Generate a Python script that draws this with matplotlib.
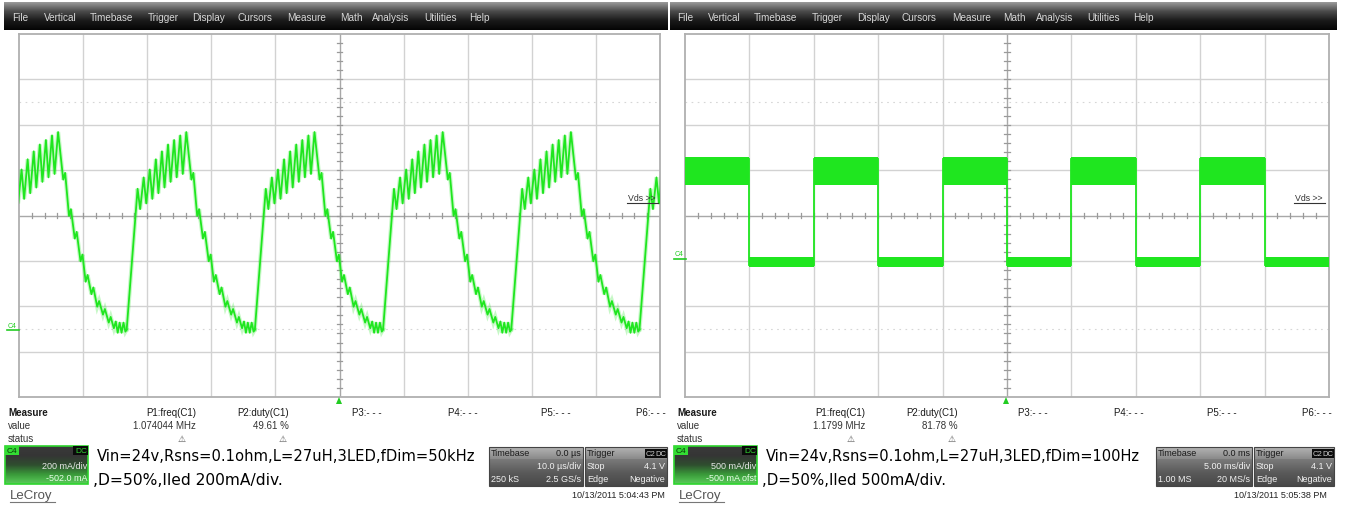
import numpy as np
import matplotlib
matplotlib.use("Agg")
import matplotlib.pyplot as plt
from matplotlib.patches import Rectangle, Polygon
from matplotlib.colors import to_rgb

# ---------------- DATA ----------------
menu_items = ["File", "Vertical", "Timebase", "Trigger", "Display", "Cursors",
              "Measure", "Math", "Analysis", "Utilities", "Help"]

# Left capture: LED current, 200 mA/div, offset -502 mA, 10 us/div, fDim = 50 kHz
left_tdiv_us = 10.0
left_vdiv_mA = 200.0
left_offset_mA = -502.0
# one PWM-dimming period (time from start of rise, us / current, mA)
dim_period_t_us = [0.0, 1.7, 2.1, 2.65, 3.05, 3.6, 4.0, 4.55, 4.95, 5.5, 5.9, 6.45, 6.85,
                   7.4, 7.8, 8.35, 8.75, 9.3,
                   10.1, 10.4, 11.0, 11.3, 11.9, 12.2, 12.8, 13.1, 13.6, 13.9, 14.5, 14.8,
                   15.4, 15.7, 16.3, 16.6, 17.2, 17.5, 18.0,
                   18.3, 18.6, 18.9, 19.2, 19.5, 19.8, 20.0]
dim_period_i_mA = [0, 620, 530, 670, 555, 705, 575, 750, 600, 785, 625, 815, 650,
                   835, 670, 855, 685, 870,
                   660, 690, 500, 530, 400, 430, 300, 330, 210, 240, 155, 185,
                   100, 125, 65, 90, 30, 55, 5,
                   35, -15, 30, -15, 30, -10, 0]
dim_rise_starts_us = [-3.2, 16.8, 36.8, 56.8, 76.8, 96.8]

# Right capture: 500 mA/div, offset -500 mA, 5 ms/div, fDim = 100 Hz
right_tdiv_ms = 5.0
right_vdiv_mA = 500.0
right_offset_mA = -500.0
sq_edges_ms = [0, 5, 10, 15, 20, 25, 30, 35, 40, 45, 50]
sq_high_band_mA = (840, 1145)
sq_low_band_mA = (-65, 45)

panels = [
    dict(p1="1.074044 MHz", p2="49.61 %", ch_div="200 mA/div", ch_ofs="-502.0 mA",
         note1="Vin=24v,Rsns=0.1ohm,L=27uH,3LED,fDim=50kHz", note2=",D=50%,Iled 200mA/div.",
         tb0="0.0 µs", tbdiv="10.0 µs/div", tbs="250 kS", tbr="2.5 GS/s",
         date="10/13/2011 5:04:43 PM"),
    dict(p1="1.1799 MHz", p2="81.78 %", ch_div="500 mA/div", ch_ofs="-500 mA ofst",
         note1="Vin=24v,Rsns=0.1ohm,L=27uH,3LED,fDim=100Hz", note2=",D=50%,Iled 500mA/div.",
         tb0="0.0 ms", tbdiv="5.00 ms/div", tbs="1.00 MS", tbr="20 MS/s",
         date="10/13/2011 5:05:38 PM"),
]

# ---------------- FIGURE ----------------
W, H = 1357, 506
fig = plt.figure(figsize=(W / 100, H / 100), dpi=100)
fig.patch.set_facecolor("white")
bg = fig.add_axes([0, 0, 1, 1])
bg.set_xlim(0, W); bg.set_ylim(H, 0); bg.axis("off")

GREEN = "#1fe61f"
FONT = "Liberation Sans"
renderer = fig.canvas.get_renderer()


def txt(ax, x, y, s, size=7, color="#1a1a1a", ha="left", va="center", weight="normal",
        family=FONT, fit=None, **kw):
    t = ax.text(x, y, s, fontsize=size, color=color, ha=ha, va=va, fontweight=weight,
                family=family, **kw)
    if fit:
        w = t.get_window_extent(renderer).width
        t.set_fontsize(size * fit / w)
    return t


def grad(ax, x0, y0, x1, y1, stops, z=1):
    n = 64
    pos = np.linspace(0, 1, n)
    sp = np.linspace(0, 1, len(stops))
    cols = np.array([to_rgb(c) for c in stops])
    arr = np.stack([np.interp(pos, sp, cols[:, i]) for i in range(3)], axis=-1)[:, None, :]
    ax.imshow(arr, extent=(x0, x1, y1, y0), aspect="auto", interpolation="bilinear", zorder=z)


# menu bars
bar_x = [(4, 668), (670, 1337)]
menu_x = [[12, 44, 90, 148, 192, 238, 287, 340, 372, 424, 469],
          [677, 708, 754, 812, 857, 902, 952, 1003, 1036, 1087, 1133]]
for (bx0, bx1), mx in zip(bar_x, menu_x):
    grad(bg, bx0, 3, bx1, 31, ["#9a9a9a", "#4a4a4a", "#1a1a1a", "#050505"])
    for name, x in zip(menu_items, mx):
        txt(bg, x, 17.5, name, size=7.2, color="#d8d8d8")

bg.set_xlim(0, W); bg.set_ylim(H, 0)


def scope_axes(px0, px1, py0, py1, tdiv, vdiv, offset):
    ax = fig.add_axes([px0 / W, 1 - py1 / H, (px1 - px0) / W, (py1 - py0) / H])
    ax.set_facecolor("none")
    c = -offset
    ax.set_xlim(0, 10 * tdiv); ax.set_ylim(c - 4 * vdiv, c + 4 * vdiv)
    ax.set_xticks([]); ax.set_yticks([])
    for s in ax.spines.values():
        s.set_color("#b0b0b0"); s.set_linewidth(1.3)
    for k in range(1, 10):
        ax.axvline(k * tdiv, color="#a8a8a8" if k == 5 else "#d2d2d2", lw=1, zorder=1)
    for k in range(1, 8):
        ax.axhline(c + (k - 4) * vdiv, color="#a8a8a8" if k == 4 else "#d2d2d2", lw=1, zorder=1)
    for yy in (c + 2.5 * vdiv, c - 2.5 * vdiv):
        ax.axhline(yy, color="#d6d6d6", lw=0.8, ls=(0, (1.5, 4)), zorder=1)
    for k in range(1, 50):
        x = k * tdiv / 5
        ax.plot([x, x], [c - 0.05 * vdiv, c + 0.05 * vdiv], color="#9a9a9a", lw=0.9, zorder=1)
    for k in range(1, 40):
        y = c - 4 * vdiv + k * vdiv / 5
        ax.plot([5 * tdiv - 0.04 * tdiv, 5 * tdiv + 0.04 * tdiv], [y, y], color="#9a9a9a",
                lw=0.9, zorder=1)
    return ax


# left scope
axL = scope_axes(19, 660, 35, 398, left_tdiv_us, left_vdiv_mA, left_offset_mA)
pt = np.array(dim_period_t_us); pi = np.array(dim_period_i_mA)
for t0 in dim_rise_starts_us:
    axL.plot(t0 + pt, pi, color=GREEN, lw=3.0, alpha=0.25, zorder=3, solid_joinstyle="miter")
    axL.plot(t0 + pt, pi, color=GREEN, lw=1.3, zorder=4)

# right scope
axR = scope_axes(685, 1329, 35, 398, right_tdiv_ms, right_vdiv_mA, right_offset_mA)
for k in range(len(sq_edges_ms) - 1):
    t0, t1 = sq_edges_ms[k], sq_edges_ms[k + 1]
    lo, hi = sq_high_band_mA if k % 2 == 0 else sq_low_band_mA
    axR.fill_between([t0, t1], [lo, lo], [hi, hi], color=GREEN, lw=0, zorder=3)
    if k > 0:
        axR.plot([t0, t0], [sq_low_band_mA[0] + 20, sq_high_band_mA[1] - 20], color=GREEN,
                 lw=1.3, zorder=3)

# overlay for markers
ov = fig.add_axes([0, 0, 1, 1])
ov.set_facecolor("none"); ov.set_xlim(0, W); ov.set_ylim(H, 0); ov.axis("off")

for ox, c4y in ((0, 326), (667, 255)):
    # Vds label
    txt(ov, 628 + ox, 198.5, "Vds >>", size=6.3, color="#333333")
    ov.plot([627 + ox, 658 + ox], [203.5, 203.5], color="#333333", lw=0.8)
    # C4 marker
    txt(ov, 8 + ox, c4y, "C4", size=5, color="#22cc22")
    ov.plot([7 + ox, 19 + ox], [c4y + 4.5, c4y + 4.5], color="#22cc22", lw=1.2)
    # trigger marker
    ov.add_patch(Polygon([[336 + ox, 405], [342 + ox, 405], [339 + ox, 398]], closed=True,
                         color="#22cc22", lw=0))

# ---------------- bottom info ----------------
for ox, p in zip((0, 669), panels):
    txt(bg, 8 + ox, 413, "Measure", size=7, weight="bold")
    txt(bg, 8 + ox, 426, "value", size=7, color="#333333")
    txt(bg, 8 + ox, 439, "status", size=7, color="#333333")
    txt(bg, 196 + ox, 413, "P1:freq(C1)", size=7, ha="right")
    txt(bg, 196 + ox, 426, p["p1"], size=7, ha="right", color="#333333")
    txt(bg, 182 + ox, 439, "⚠", size=6.5, ha="center", color="#555555", family="DejaVu Sans")
    txt(bg, 289 + ox, 413, "P2:duty(C1)", size=7, ha="right")
    txt(bg, 289 + ox, 426, p["p2"], size=7, ha="right", color="#333333")
    txt(bg, 283 + ox, 439, "⚠", size=6.5, ha="center", color="#555555", family="DejaVu Sans")
    for lab, x in (("P3:- - -", 352), ("P4:- - -", 448), ("P5:- - -", 541), ("P6:- - -", 636)):
        txt(bg, x + ox - (3 if ox else 0), 413, lab, size=7)

    # channel box
    cx0, cx1, cy0, cy1 = 5 + ox, 88 + ox, 447, 485
    grad(bg, cx0, cy0, cx1, cy1, ["#3a3a3a", "#353535", "#2f4f2f", "#3a9a3a", "#5acc5a"], z=2)
    bg.add_patch(Rectangle((cx0, cy0), cx1 - cx0, cy1 - cy0, fill=False, ec="#2ed42e", lw=1.2, zorder=3))
    bg.add_patch(Rectangle((cx0, cy0), 14, 9, fc="#33dd33", ec="none", zorder=3))
    txt(bg, cx0 + 2, cy0 + 4.8, "C4", size=6, color="#0a3a0a", zorder=4)
    bg.add_patch(Rectangle((cx1 - 15, cy0), 15, 9, fc="#0a0a0a", ec="none", zorder=3))
    txt(bg, cx1 - 1, cy0 + 4.8, "DC", size=6, color="#33dd33", ha="right", zorder=4)
    txt(bg, cx1 - 1, 467, p["ch_div"], size=6.5, color="#e8e8e8", ha="right", zorder=4)
    txt(bg, cx1 - 1, 479, p["ch_ofs"], size=6.5, color="#e8ffe8", ha="right", zorder=4)

    # annotation text
    txt(bg, 97 + ox, 457, p["note1"], size=11, color="black", family="DejaVu Sans",
        fit=376 if ox == 0 else 372)
    txt(bg, 93 + ox, 481, p["note2"], size=11, color="black", family="DejaVu Sans",
        fit=190 if ox == 0 else 184)

    # timebase box
    tx0, tx1 = (489, 583) if ox == 0 else (1156, 1252)
    grad(bg, tx0, 448, tx1, 460, ["#b4b4b4", "#8a8a8a"], z=2)
    grad(bg, tx0, 460, tx1, 487, ["#7a7a7a", "#5a5a5a", "#484848"], z=2)
    bg.add_patch(Rectangle((tx0, 448), tx1 - tx0, 39, fill=False, ec="#444444", lw=0.8, zorder=3))
    txt(bg, tx0 + 2, 454, "Timebase", size=6.5, color="#1a1a1a", zorder=4)
    txt(bg, tx1 - 2, 454, p["tb0"], size=6.5, color="#1a1a1a", ha="right", zorder=4)
    txt(bg, tx1 - 2, 467, p["tbdiv"], size=6.5, color="#f2f2f2", ha="right", zorder=4)
    txt(bg, tx0 + 2, 480, p["tbs"], size=6.5, color="#f2f2f2", zorder=4)
    txt(bg, tx1 - 2, 480, p["tbr"], size=6.5, color="#f2f2f2", ha="right", zorder=4)

    # trigger box
    gx0, gx1 = (585, 667) if ox == 0 else (1254, 1334)
    grad(bg, gx0, 448, gx1, 460, ["#b4b4b4", "#8a8a8a"], z=2)
    grad(bg, gx0, 460, gx1, 487, ["#7a7a7a", "#5a5a5a", "#484848"], z=2)
    bg.add_patch(Rectangle((gx0, 448), gx1 - gx0, 39, fill=False, ec="#444444", lw=0.8, zorder=3))
    txt(bg, gx0 + 2, 454, "Trigger", size=6.5, color="#1a1a1a", zorder=4)
    bg.add_patch(Rectangle((gx1 - 22, 449.5), 10.5, 9, fc="#0a0a0a", ec="none", zorder=3))
    bg.add_patch(Rectangle((gx1 - 11, 449.5), 10.5, 9, fc="#0a0a0a", ec="none", zorder=3))
    txt(bg, gx1 - 16.8, 454.2, "C2", size=5.5, color="#cfcfcf", ha="center", zorder=4)
    txt(bg, gx1 - 5.8, 454.2, "DC", size=5.5, color="#cfcfcf", ha="center", zorder=4)
    txt(bg, gx0 + 2, 467, "Stop", size=6.5, color="#f2f2f2", zorder=4)
    txt(bg, gx1 - 2, 467, "4.1 V", size=6.5, color="#f2f2f2", ha="right", zorder=4)
    txt(bg, gx0 + 2, 480, "Edge", size=6.5, color="#f2f2f2", zorder=4)
    txt(bg, gx1 - 2, 480, "Negative", size=6.5, color="#f2f2f2", ha="right", zorder=4)

    # logo and date
    txt(bg, 10 + ox, 496, "LeCroy", size=9.5, color="#555555")
    bg.plot([10 + ox, 55 + ox], [503, 503], color="#777777", lw=0.8)
    txt(bg, (665 if ox == 0 else 1327), 496, p["date"], size=6.5, ha="right", color="#222222")

bg.set_xlim(0, W); bg.set_ylim(H, 0)
fig.savefig("out.png", dpi=100)
